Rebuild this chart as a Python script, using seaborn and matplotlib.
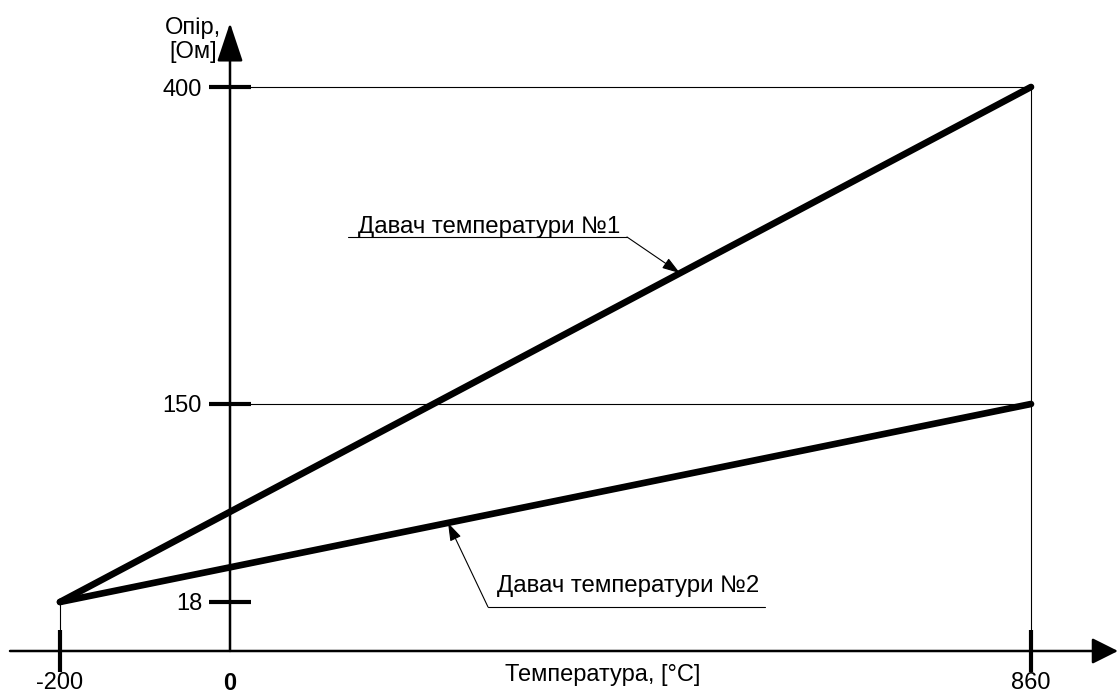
import numpy as np
import pandas as pd
import matplotlib
matplotlib.use("Agg")
import matplotlib.pyplot as plt
import seaborn as sns

# ---- data ----
temperature = [-200, 860]                 # °C
sensor1_resistance = [18, 400]            # Ом
sensor2_resistance = [18, 150]
series_names = ["Давач температури №1", "Давач температури №2"]
x_ticks = [-200, 0, 860]
x_tick_labels = ["-200", "0", "860"]
y_ticks = [18, 150, 400]
y_tick_labels = ["18", "150", "400"]
x_label = "Температура, [°C]"
y_label = "Опір,\n[Ом]"

W, H = 1118, 693
sns.set_theme(style="white")
plt.rcParams["font.family"] = ["Liberation Sans", "DejaVu Sans"]

fig = plt.figure(figsize=(W / 100, H / 100), dpi=100)
ax = fig.add_axes([0, 0, 1, 1])
fig.patch.set_facecolor("white")
ax.set_facecolor("white")

# schematic (piecewise-linear) scales, as in the drawing
XA, XP = np.array([-200.0, 0.0, 860.0]), np.array([60.0, 230.0, 1031.0])
YA, YP = np.array([18.0, 150.0, 400.0]), np.array([91.0, 289.0, 606.0])


def make_pw(a, p):
    s1 = (p[1] - p[0]) / (a[1] - a[0])
    s2 = (p[2] - p[1]) / (a[2] - a[1])

    def fwd(v):
        v = np.asarray(v, dtype=float)
        return np.where(v < a[1], p[1] + (v - a[1]) * s1, p[1] + (v - a[1]) * s2)

    def inv(q):
        q = np.asarray(q, dtype=float)
        return np.where(q < p[1], a[1] + (q - p[1]) / s1, a[1] + (q - p[1]) / s2)

    return fwd, inv


xf, xi = make_pw(XA, XP)
yf, yi = make_pw(YA, YP)
ax.set_xscale("function", functions=(xf, xi))
ax.set_yscale("function", functions=(yf, yi))
ax.set_xlim(float(xi(0)), float(xi(W)))
ax.set_ylim(float(yi(0)), float(yi(H)))

x_axis_y = float(yi(42))  # level of the horizontal axis

# ---- series ----
df = pd.DataFrame({
    "t": temperature * 2,
    "r": sensor1_resistance + sensor2_resistance,
    "s": [series_names[0]] * 2 + [series_names[1]] * 2,
})
sns.lineplot(data=df, x="t", y="r", hue="s", palette=["black", "black"],
             lw=4.8, legend=False, ax=ax, solid_capstyle="round", zorder=5,
             estimator=None, sort=False)
ax.set_xlabel("")
ax.set_ylabel("")

# guide lines
thin = dict(color="black", lw=0.8, zorder=2)
ax.plot([0, temperature[1]], [sensor1_resistance[1]] * 2, **thin)
ax.plot([0, temperature[1]], [sensor2_resistance[1]] * 2, **thin)
ax.plot([temperature[1]] * 2, [sensor1_resistance[1], x_axis_y], **thin)
ax.plot([temperature[0]] * 2, [sensor1_resistance[0], x_axis_y], **thin)

# ---- axes ----
for s in ax.spines.values():
    s.set_visible(False)
ax.spines["left"].set_position(("data", 0))
ax.spines["bottom"].set_position(("data", x_axis_y))

tick_len = 42 * 0.72
ax.set_xticks(x_ticks, x_tick_labels)
ax.set_yticks(y_ticks, y_tick_labels)
ax.tick_params(axis="both", which="major", direction="inout", length=tick_len,
               width=3.0, color="black", labelcolor="black", labelsize=17,
               bottom=True, left=True, top=False, right=False)
ax.tick_params(axis="x", pad=0)
ax.tick_params(axis="y", pad=5)
ax.minorticks_off()
xt = ax.xaxis.get_major_ticks()
xt[1].tick1line.set_visible(False)
xt[1].label1.set_fontweight("bold")
ax.grid(False)

axc = dict(color="black", lw=1.8, shrinkA=0, shrinkB=0)
to_ax = lambda px, py: (px / W, 1 - py / H)
# horizontal axis with arrow
ax.annotate("", xy=to_ax(1118, 651), xytext=to_ax(10, 651),
            xycoords="axes fraction", textcoords="axes fraction",
            arrowprops=dict(arrowstyle="-|>,head_length=1.6,head_width=0.8",
                            mutation_scale=10, **axc), zorder=6)
# vertical axis with arrow
ax.annotate("", xy=to_ax(230, 23), xytext=to_ax(230, 651),
            xycoords="axes fraction", textcoords="axes fraction",
            arrowprops=dict(arrowstyle="-|>,head_length=2.4,head_width=0.8",
                            mutation_scale=10, **axc), zorder=6)

ax.text(*to_ax(603, 675), x_label, transform=ax.transAxes, ha="center",
        va="center", fontsize=17, color="black")
ax.text(*to_ax(193, 40), y_label, transform=ax.transAxes, ha="center",
        va="center", fontsize=17, color="black", linespacing=1.1)


def point_on(series_idx, t):
    ys = [sensor1_resistance, sensor2_resistance][series_idx]
    p0 = ax.transData.transform((temperature[0], ys[0]))
    p1 = ax.transData.transform((temperature[1], ys[1]))
    p = (1 - t) * p0 + t * p1
    return ax.transAxes.inverted().transform(p)


fig.canvas.draw()
callouts = [
    (0, 0.6385, (348, 627, 237), (358, 233)),
    (1, 0.3996, (488, 765, 607), (497, 592)),
]
for idx, t, (ux0, ux1, uy), (tx, ty) in callouts:
    tip = point_on(idx, t)
    tail = to_ax(ux1 if idx == 0 else ux0, uy)
    ax.plot([ux0 / W, ux1 / W], [1 - uy / H] * 2, transform=ax.transAxes,
            color="black", lw=0.8, zorder=4)
    ax.annotate("", xy=tip, xytext=tail, xycoords="axes fraction",
                textcoords="axes fraction",
                arrowprops=dict(arrowstyle="-|>,head_length=1.1,head_width=0.36",
                                mutation_scale=10, color="black", lw=0.8,
                                shrinkA=0, shrinkB=0), zorder=6)
    ax.text(*to_ax(tx, ty), series_names[idx], transform=ax.transAxes,
            ha="left", va="baseline", fontsize=17.3, color="black")

fig.savefig("out.png", dpi=100, facecolor="white")
